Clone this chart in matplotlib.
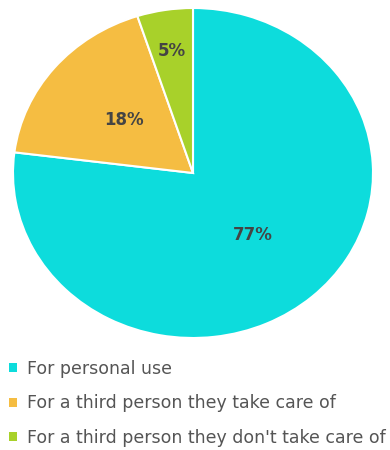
import matplotlib
matplotlib.use("Agg")
import matplotlib.pyplot as plt
import numpy as np

categories = ["For personal use", "For a third person they take care of",
              "For a third person they don't take care of"]
values = [77, 18, 5]
labels = ["77%", "18%", "5%"]
colors = ["#0ddcdc", "#f5bd42", "#a8d12a"]

W, H = 390, 450
fig = plt.figure(figsize=(W / 100, H / 100), dpi=100)
# pie area (slightly elliptical as in reference)
cx, cy, rx, ry = 193, 173, 180, 165
ax = fig.add_axes([(cx - rx) / W, 1 - (cy + ry) / H, 2 * rx / W, 2 * ry / H])
wedges, _ = ax.pie(values, colors=colors, startangle=90, counterclock=False,
                   wedgeprops=dict(edgecolor="white", linewidth=1.5))
ax.set_aspect("auto")
ax.set_xlim(-1, 1)
ax.set_ylim(-1, 1)
ax.axis("off")

for w, lab, v in zip(wedges, labels, values):
    mid = np.deg2rad((w.theta1 + w.theta2) / 2)
    r = 0.5 if v > 10 else 0.75
    ax.text(r * np.cos(mid), r * np.sin(mid), lab, ha="center", va="center",
            fontsize=12, fontweight="bold", color="#444444")

leg = fig.legend(wedges, categories, loc="upper left",
                 bbox_to_anchor=(9 / W, 1 - 360 / H), frameon=False,
                 fontsize=12.5, handlelength=0.45, handleheight=0.45,
                 handletextpad=0.6, labelspacing=0.95, borderpad=0,
                 borderaxespad=0)
for t in leg.get_texts():
    t.set_color("#555555")
for h in leg.legend_handles:
    h.set_edgecolor("none")

fig.savefig("out.png", dpi=100)
